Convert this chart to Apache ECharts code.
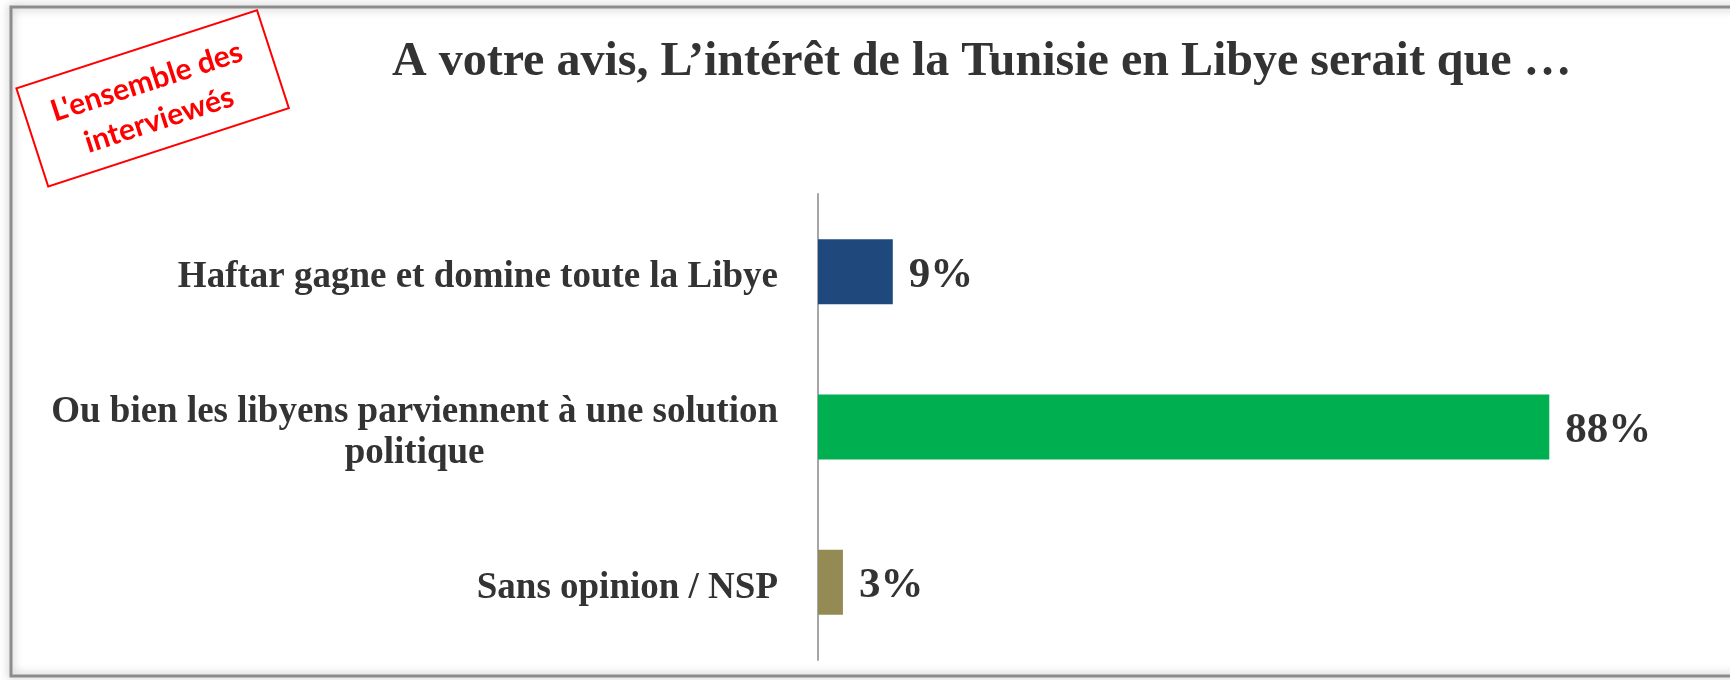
<!DOCTYPE html>
<html>
<head>
<meta charset="utf-8">
<script src="https://cdn.jsdelivr.net/npm/echarts@6/dist/echarts.min.js"></script>
<style>
  html, body { margin: 0; padding: 0; background: #fff; }
  #main { width: 1730px; height: 680px; }
</style>
</head>
<body>
<div id="main"></div>
<script>
// donnees
var titre = 'A votre avis, L\u2019intérêt de la Tunisie en Libye serait que …';
var categories = ['Haftar gagne et domine toute la Libye', 'Ou bien les libyens parviennent à une solution\npolitique', 'Sans opinion / NSP'];
var valeurs = [9, 88, 3];
var couleurs = ['#1F497D', '#00B050', '#948A54'];
var tampon = "L'ensemble des\ninterviewés";

var serif = "'Liberation Serif', 'Times New Roman', serif";
var myChart = echarts.init(document.getElementById('main'));

var barData = valeurs.map(function(v, i) {
    return { value: v, itemStyle: { color: couleurs[i] } };
});

option = {
    backgroundColor: '#fff',
    animation: false,
    title: {
        text: titre,
        left: 392,
        top: 39,
        padding: 0,
        textStyle: { fontFamily: serif, fontWeight: 'bold', fontSize: 48, color: '#333' }
    },
    grid: { left: 818, right: 81, top: 194, bottom: 20, containLabel: false },
    xAxis: { type: 'value', min: 0, max: 100, show: false },
    yAxis: {
        type: 'category',
        inverse: true,
        data: categories,
        axisLine: { show: true, lineStyle: { color: '#a6a6a6', width: 2 } },
        axisTick: { show: false },
        splitLine: { show: false },
        axisLabel: {
            margin: 40,
            align: 'right',
            padding: [12, 0, 0, 0],
            formatter: function(v) {
                return v.split('\n').map(function(l) { return '{c|' + l + '}'; }).join('\n');
            },
            rich: {
                c: { fontFamily: serif, fontWeight: 'bold', fontSize: 37, color: '#333', lineHeight: 41, align: 'center' }
            }
        }
    },
    series: [{
        type: 'bar',
        data: barData,
        barWidth: 65,
        label: {
            show: true,
            position: 'right',
            distance: 16,
            offset: [0, 4],
            formatter: '{c}%',
            fontFamily: serif,
            fontWeight: 'bold',
            fontSize: 43,
            color: '#333'
        }
    }],
    graphic: [
        {
            // cadre
            type: 'rect',
            shape: { x: 11, y: 7, width: 1740, height: 669 },
            style: { fill: 'none', stroke: '#8c8c8c', lineWidth: 3, shadowBlur: 10, shadowColor: 'rgba(0,0,0,0.35)' },
            silent: true
        },
        {
            type: 'group',
            x: 152,
            y: 98,
            rotation: 18 * Math.PI / 180,
            children: [
                {
                    type: 'rect',
                    shape: { x: -126, y: -51, width: 253, height: 103 },
                    style: { fill: '#fff', stroke: '#ff0000', lineWidth: 2 }
                },
                {
                    type: 'text',
                    x: 0,
                    y: 3,
                    style: {
                        text: tampon,
                        fill: '#ff0000',
                        font: "bold 30px Lato, 'Open Sans', sans-serif",
                        lineHeight: 40,
                        align: 'center',
                        verticalAlign: 'middle'
                    }
                }
            ]
        }
    ]
};

myChart.setOption(option);
</script>
</body>
</html>
